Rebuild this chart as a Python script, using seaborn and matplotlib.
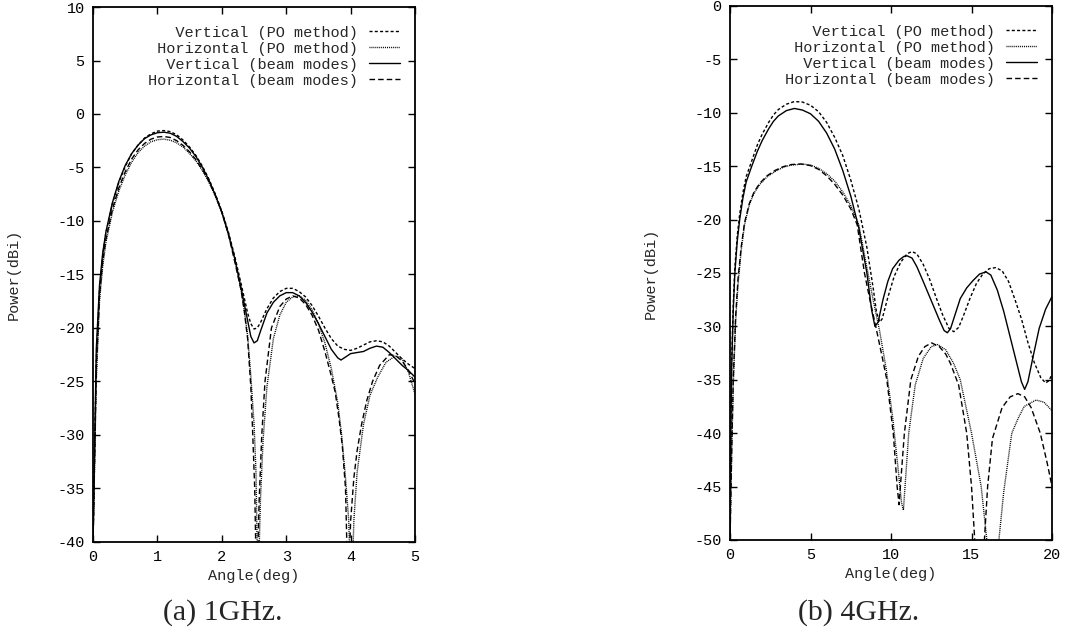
import matplotlib
matplotlib.use("Agg")
import matplotlib.pyplot as plt
import seaborn as sns

# --- 1 GHz panel: angle (deg) / power (dBi) ---
x1_v_beam = [0, 0.05, 0.1, 0.15, 0.2, 0.3, 0.4, 0.5, 0.6, 0.7, 0.8, 0.9, 1.0, 1.1, 1.2, 1.3, 1.4, 1.5,
             1.6, 1.7, 1.8, 1.9, 2.0, 2.1, 2.2, 2.3, 2.4, 2.45, 2.5, 2.55, 2.6, 2.7, 2.8, 2.9, 3.0, 3.1,
             3.2, 3.3, 3.4, 3.5, 3.6, 3.7, 3.8, 3.85, 3.9, 4.0, 4.1, 4.2, 4.3, 4.4, 4.5, 4.6, 4.7, 4.8,
             4.9, 5.0]
y1_v_beam = [-40, -22, -16, -13, -11, -8.3, -6.3, -4.8, -3.7, -2.9, -2.3, -1.95, -1.75, -1.7, -1.8,
             -2.1, -2.6, -3.2, -4.0, -5.0, -6.2, -7.6, -9.2, -11.2, -13.5, -16.3, -19.3, -20.8, -21.4,
             -21.2, -20.3, -18.6, -17.6, -17.0, -16.7, -16.7, -17.0, -17.6, -18.5, -19.6, -20.8, -22.0,
             -22.8, -23.0, -22.8, -22.4, -22.3, -22.2, -21.9, -21.7, -21.8, -22.3, -22.9, -23.5, -24.0,
             -24.6]

x1_v_po = [0, 0.05, 0.1, 0.15, 0.2, 0.3, 0.4, 0.5, 0.6, 0.7, 0.8, 0.9, 1.0, 1.1, 1.2, 1.3, 1.4, 1.5,
           1.6, 1.7, 1.8, 1.9, 2.0, 2.1, 2.2, 2.3, 2.4, 2.45, 2.5, 2.55, 2.6, 2.7, 2.8, 2.9, 3.0, 3.1,
           3.2, 3.3, 3.4, 3.5, 3.6, 3.7, 3.8, 3.9, 4.0, 4.1, 4.2, 4.3, 4.4, 4.5, 4.6, 4.7, 4.8, 4.9, 5.0]
y1_v_po = [-40, -23, -16.5, -13.2, -11.1, -8.4, -6.4, -4.9, -3.7, -2.9, -2.25, -1.85, -1.6, -1.55,
           -1.65, -1.95, -2.45, -3.1, -3.9, -4.9, -6.1, -7.5, -9.1, -11.0, -13.3, -15.9, -18.6, -19.6,
           -20.1, -20.0, -19.5, -18.2, -17.2, -16.6, -16.3, -16.3, -16.6, -17.1, -17.9, -18.9, -20.0,
           -21.0, -21.7, -22.0, -22.1, -21.9, -21.6, -21.3, -21.2, -21.3, -21.7, -22.3, -22.9, -23.4,
           -23.8]

x1_h_beam = [0, 0.05, 0.1, 0.15, 0.2, 0.3, 0.4, 0.5, 0.6, 0.7, 0.8, 0.9, 1.0, 1.1, 1.2, 1.3, 1.4, 1.5,
             1.6, 1.7, 1.8, 1.9, 2.0, 2.1, 2.2, 2.3, 2.35, 2.4, 2.45, 2.48, 2.51, 2.54, 2.58, 2.62,
             2.67, 2.77, 2.9, 3.0, 3.1, 3.2, 3.3, 3.4, 3.5, 3.6, 3.7, 3.76, 3.82, 3.87, 3.92, 3.96,
             4.0, 4.05, 4.1, 4.17, 4.25, 4.34, 4.45, 4.6, 4.7, 4.8, 4.9, 5.0]
y1_h_beam = [-40, -24, -17, -13.8, -11.7, -8.9, -6.9, -5.4, -4.2, -3.35, -2.75, -2.35, -2.15, -2.1,
             -2.2, -2.5, -2.95, -3.55, -4.3, -5.2, -6.3, -7.6, -9.2, -11.2, -13.8, -16.5, -18.5, -21.0,
             -25.5, -30, -35, -45, -36, -30, -25, -20, -18.0, -17.3, -17.0, -17.2, -17.8, -18.8, -20.2,
             -22.2, -24.5, -26, -28.5, -31, -35, -45, -38, -34, -31.5, -29, -26.8, -25, -23.5, -22.5,
             -22.6, -23.1, -24.0, -25.2]

x1_h_po = [0, 0.05, 0.1, 0.15, 0.2, 0.3, 0.4, 0.5, 0.6, 0.7, 0.8, 0.9, 1.0, 1.1, 1.2, 1.3, 1.4, 1.5,
           1.6, 1.7, 1.8, 1.9, 2.0, 2.1, 2.2, 2.3, 2.35, 2.4, 2.45, 2.5, 2.53, 2.56, 2.6, 2.64, 2.7,
           2.8, 2.9, 3.0, 3.1, 3.2, 3.3, 3.4, 3.5, 3.6, 3.7, 3.8, 3.86, 3.92, 3.97, 4.01, 4.05, 4.1,
           4.2, 4.3, 4.42, 4.55, 4.7, 4.8, 4.9, 5.0]
y1_h_po = [-40, -25, -17.5, -14.2, -12.0, -9.2, -7.2, -5.7, -4.5, -3.6, -3.0, -2.6, -2.4, -2.35, -2.45,
           -2.7, -3.1, -3.7, -4.4, -5.3, -6.4, -7.7, -9.2, -11.1, -13.5, -16.5, -18.4, -20.7, -24.5,
           -29, -33.5, -45, -36, -30.5, -25.5, -21.0, -18.8, -17.6, -17.1, -17.0, -17.4, -18.3, -19.6,
           -21.4, -23.8, -27.0, -30, -34, -38, -46, -38, -33.5, -29.0, -26.3, -24.6, -23.2, -22.6,
           -22.9, -24.2, -26.2]

# --- 4 GHz panel ---
x4_v_beam = [0, 0.05, 0.1, 0.2, 0.3, 0.45, 0.6, 0.8, 1.0, 1.35, 1.7, 2.0, 2.4, 2.7, 3.0, 3.5, 4.0,
             4.5, 5.0, 5.5, 6.0, 6.5, 7.0, 7.5, 8.0, 8.5, 8.8, 9.0, 9.2, 9.5, 9.8, 10.1, 10.5, 10.8,
             11.0, 11.3, 11.6, 12.0, 12.5, 13.0, 13.3, 13.5, 13.7, 14.0, 14.3, 14.7, 15.1, 15.5, 15.9,
             16.2, 16.6, 17.0, 17.4, 17.8, 18.1, 18.3, 18.5, 18.8, 19.2, 19.6, 20.0]
y4_v_beam = [-50, -40, -34, -28.5, -25, -22, -20, -18, -16.5, -15, -13.6, -12.6, -11.5, -10.8, -10.3,
             -9.8, -9.6, -9.75, -10.1, -10.8, -11.9, -13.4, -15.4, -17.8, -20.8, -25.0, -28.5, -30.0,
             -29.6, -27.5, -25.8, -24.6, -23.8, -23.45, -23.4, -23.6, -24.4, -25.8, -27.6, -29.4, -30.4,
             -30.6, -30.2, -28.8, -27.4, -26.4, -25.7, -25.1, -24.9, -25.2, -26.6, -28.6, -31.0, -33.4,
             -35.2, -35.9, -35.2, -33.0, -30.2, -28.4, -27.2]

x4_v_po = [0, 0.05, 0.1, 0.2, 0.3, 0.45, 0.6, 0.8, 1.0, 1.35, 1.7, 2.0, 2.4, 2.7, 3.0, 3.5, 4.0, 4.5,
           5.0, 5.5, 6.0, 6.5, 7.0, 7.5, 8.0, 8.5, 8.9, 9.1, 9.3, 9.45, 9.8, 10.2, 10.6, 11.0, 11.3,
           11.6, 12.0, 12.4, 12.8, 13.2, 13.6, 13.9, 14.2, 14.5, 14.9, 15.3, 15.7, 16.1, 16.5, 16.9,
           17.3, 17.7, 18.1, 18.5, 18.9, 19.3, 19.6, 19.8, 20.0]
y4_v_po = [-50, -40, -33.5, -28, -24.5, -21.5, -19.5, -17.5, -16, -14.5, -13.0, -12.0, -10.9, -10.2,
           -9.7, -9.2, -8.95, -9.0, -9.3, -9.9, -10.9, -12.3, -14.0, -16.3, -19.0, -22.6, -26.5, -28.7,
           -29.6, -29.3, -27.3, -25.3, -24.0, -23.2, -23.0, -23.2, -24.2, -25.6, -27.3, -28.9, -30.2,
           -30.5, -30.1, -29.0, -27.4, -26.0, -25.1, -24.6, -24.5, -24.8, -25.8, -27.5, -29.3, -31.5,
           -33.4, -34.8, -35.3, -35.1, -34.5]

x4_h_beam = [0, 0.1, 0.2, 0.35, 0.5, 0.7, 0.9, 1.2, 1.5, 1.85, 2.3, 2.8, 3.3, 3.8, 4.4, 5.0, 5.5, 6.0,
             6.5, 7.0, 7.5, 7.9, 8.35, 8.7, 9.05, 9.4, 9.74, 10.14, 10.38, 10.5, 10.58, 10.83, 11.23,
             11.7, 12.1, 12.52, 13.0, 13.4, 13.7, 14.2, 14.7, 15.0, 15.2, 15.5, 15.8, 16.0, 16.3, 16.9,
             17.4, 17.88, 18.3, 18.7, 19.27, 19.7, 20.0]
y4_h_beam = [-50, -42, -35, -29, -25.5, -22.5, -20.3, -18.5, -17.4, -16.6, -15.9, -15.4, -15.05, -14.85,
             -14.8, -14.95, -15.3, -15.9, -16.7, -17.7, -19.0, -20.5, -25, -27.6, -30, -32.5, -35, -40,
             -45, -46.7, -45, -40, -35, -32.8, -31.9, -31.55, -31.9, -32.6, -33.5, -35.5, -40, -45, -50,
             -56, -50, -45, -40.5, -37.6, -36.6, -36.3, -36.6, -37.6, -40, -42.8, -45]

x4_h_po = [0, 0.1, 0.2, 0.35, 0.5, 0.7, 0.9, 1.2, 1.5, 1.85, 2.3, 2.8, 3.3, 3.8, 4.5, 5.0, 5.5, 6.0,
           6.5, 7.0, 7.5, 8.0, 8.5, 8.9, 9.3, 9.7, 10.1, 10.45, 10.65, 10.77, 10.87, 11.1, 11.5, 12.0,
           12.5, 12.9, 13.4, 13.9, 14.3, 15.0, 15.6, 15.95, 16.3, 16.7, 17.0, 17.5, 17.9, 18.27, 19.0,
           19.5, 20.0]
y4_h_po = [-50, -42, -35.5, -29.5, -26, -22.8, -20.5, -18.6, -17.5, -16.7, -16.0, -15.5, -15.1, -14.9,
           -14.8, -14.9, -15.2, -15.7, -16.4, -17.4, -18.7, -20.5, -24.5, -27.6, -30.5, -34, -38.5,
           -43.5, -46.5, -47.2, -45, -40, -35.5, -33, -31.9, -31.7, -32.2, -33.5, -35, -40, -45, -50,
           -56, -50, -45.5, -40, -38.6, -37.5, -36.9, -37.1, -37.9]

legend_labels = ["Vertical (PO method)", "Horizontal (PO method)",
                 "Vertical (beam modes)", "Horizontal (beam modes)"]
captions = ["(a) 1GHz.", "(b) 4GHz."]

# gnuplot-like line styles: short dash, fine dots, solid, long dash
line_styles = [(0, (2.2, 1.6)), (0, (0.7, 0.7)), "-", (0, (4.0, 2.2))]

sns.set_theme(style="ticks")
plt.rcParams["font.family"] = ["Liberation Mono", "DejaVu Sans Mono"]
plt.rcParams["axes.unicode_minus"] = False

fig = plt.figure(figsize=(10.82, 6.39), dpi=100)
ax1 = fig.add_axes([0.086, 0.152, 0.2976, 0.837])
ax2 = fig.add_axes([0.6747, 0.155, 0.2976, 0.8357])

panels = [
    (ax1, [(x1_v_po, y1_v_po), (x1_h_po, y1_h_po), (x1_v_beam, y1_v_beam), (x1_h_beam, y1_h_beam)],
     (0, 5), (-40, 10), range(0, 6, 1), range(-40, 11, 5)),
    (ax2, [(x4_v_po, y4_v_po), (x4_h_po, y4_h_po), (x4_v_beam, y4_v_beam), (x4_h_beam, y4_h_beam)],
     (0, 20), (-50, 0), range(0, 21, 5), range(-50, 1, 5)),
]

width = max(len(s) for s in legend_labels)
for ax, series, xlim, ylim, xt, yt in panels:
    for (xs, ys), ls, lab in zip(series, line_styles, legend_labels):
        sns.lineplot(x=xs, y=ys, ax=ax, color="black", linewidth=1.0, linestyle=ls,
                     sort=False, label=lab.rjust(width))
    ax.set_xlim(*xlim)
    ax.set_ylim(*ylim)
    ax.set_xticks(list(xt))
    ax.set_yticks(list(yt))
    ax.tick_params(direction="in", top=True, right=True, length=5, width=1.0,
                   labelsize=11, pad=6, colors="black")
    for sp in ax.spines.values():
        sp.set_linewidth(1.3)
        sp.set_color("black")
    ax.set_xlabel("Angle(deg)", fontsize=11)
    ax.set_ylabel("Power(dBi)", fontsize=11)
    ax.xaxis.set_label_coords(0.5, -0.064)
    ax.xaxis.label.set_va("center")
    ax.yaxis.set_label_coords(-0.245, 0.5)
    ax.yaxis.label.set_va("center")
    leg = ax.legend(loc="upper right", bbox_to_anchor=(0.953, 0.965), frameon=False,
                    markerfirst=False, handlelength=2.0, handletextpad=0.75,
                    labelspacing=0.13, borderpad=0, borderaxespad=0, fontsize=11)

fig.text(0.206, 0.042, captions[0], ha="center", va="center", fontsize=21.5,
         family="Liberation Serif")
fig.text(0.794, 0.042, captions[1], ha="center", va="center", fontsize=21.5,
         family="Liberation Serif")

fig.savefig("out.png", dpi=100, facecolor="white")
